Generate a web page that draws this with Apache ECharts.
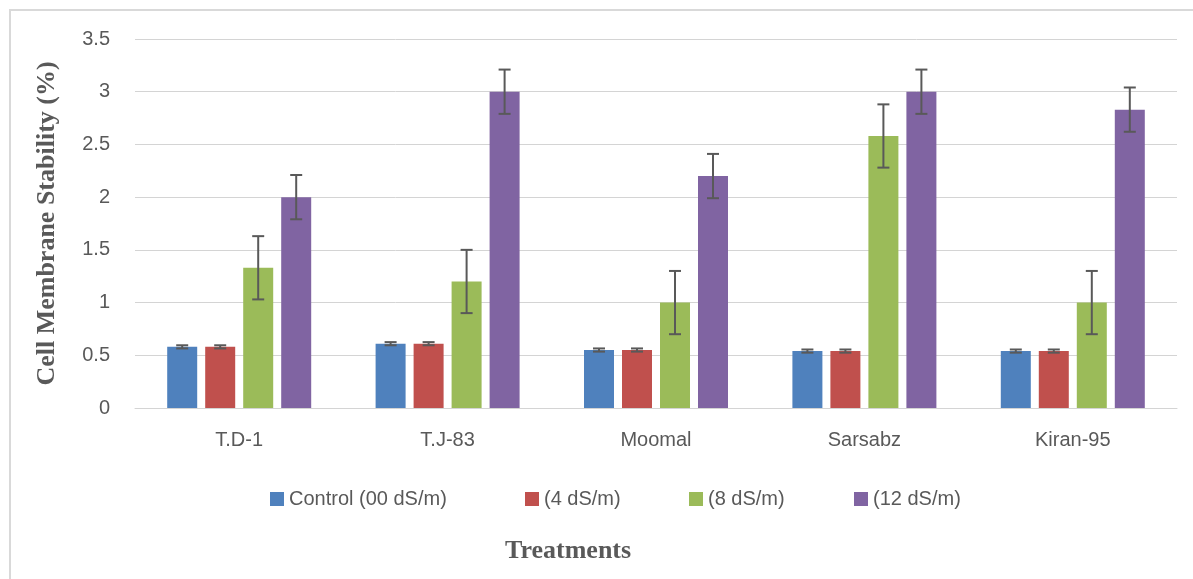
<!DOCTYPE html>
<html>
<head>
<meta charset="utf-8">
<script src="https://cdn.jsdelivr.net/npm/echarts@6/dist/echarts.min.js"></script>
<style>
html,body{margin:0;padding:0;background:#fff;}
#chart{width:1193px;height:579px;}
</style>
</head>
<body>
<div id="chart"></div>
<script>
var categories = ['T.D-1', 'T.J-83', 'Moomal', 'Sarsabz', 'Kiran-95'];
var seriesNames = ['Control (00 dS/m)', '(4 dS/m)', '(8 dS/m)', '(12 dS/m)'];
var control = [0.58, 0.61, 0.55, 0.54, 0.54];
var ds4 = [0.58, 0.61, 0.55, 0.54, 0.54];
var ds8 = [1.33, 1.2, 1.0, 2.58, 1.0];
var ds12 = [2.0, 3.0, 2.2, 3.0, 2.83];
var errControl = [0.015, 0.015, 0.015, 0.015, 0.015];
var err4 = [0.015, 0.015, 0.015, 0.015, 0.015];
var err8 = [0.3, 0.3, 0.3, 0.3, 0.3];
var err12 = [0.21, 0.21, 0.21, 0.21, 0.21];
var yTicks = [0, 0.5, 1, 1.5, 2, 2.5, 3, 3.5];

var colors = ['#4F81BD', '#C0504D', '#9BBB59', '#8064A2'];
var values = [control, ds4, ds8, ds12];
var errors = [errControl, err4, err8, err12];

var BAR_W = 30, BAR_GAP_PX = 8;
var labelColor = '#595959';
var sansFont = 'Liberation Sans, Arial, sans-serif';
var serifFont = 'Liberation Serif, Times New Roman, serif';

var chart = echarts.init(document.getElementById('chart'), null, {renderer: 'canvas'});

var series = [];
values.forEach(function (v, k) {
  series.push({
    name: seriesNames[k],
    type: 'bar',
    data: v,
    barWidth: BAR_W,
    barGap: (BAR_GAP_PX / BAR_W * 100) + '%',
    itemStyle: {color: colors[k]},
    z: 2
  });
});
values.forEach(function (v, k) {
  var data = v.map(function (val, i) { return [i, val - errors[k][i], val + errors[k][i]]; });
  series.push({
    type: 'custom',
    name: 'err' + k,
    z: 5,
    data: data,
    encode: {x: 0, y: [1, 2]},
    renderItem: function (params, api) {
      var idx = api.value(0);
      var lo = api.coord([idx, api.value(1)]);
      var hi = api.coord([idx, api.value(2)]);
      var off = (k - 1.5) * (BAR_W + BAR_GAP_PX);
      var x = lo[0] + off;
      var cap = 6;
      var st = {stroke: '#595959', lineWidth: 2};
      return {
        type: 'group',
        children: [
          {type: 'line', shape: {x1: x, y1: lo[1], x2: x, y2: hi[1]}, style: st},
          {type: 'line', shape: {x1: x - cap, y1: lo[1], x2: x + cap, y2: lo[1]}, style: st},
          {type: 'line', shape: {x1: x - cap, y1: hi[1], x2: x + cap, y2: hi[1]}, style: st}
        ]
      };
    }
  });
});

var legendLefts = [265, 520, 684, 849];
var legends = seriesNames.map(function (n, k) {
  return {
    data: [n],
    left: legendLefts[k],
    top: 484,
    itemWidth: 14,
    itemHeight: 14,
    icon: 'rect',
    textStyle: {color: labelColor, fontSize: 20, fontFamily: sansFont},
    selectedMode: false
  };
});

chart.setOption({
  animation: false,
  backgroundColor: '#fff',
  grid: {left: 135, right: 16, top: 39, bottom: 171},
  legend: legends,
  xAxis: {
    type: 'category',
    data: categories,
    axisLine: {show: true, lineStyle: {color: '#d4d4d4', width: 1}},
    axisTick: {show: false},
    axisLabel: {color: labelColor, fontSize: 20, fontFamily: sansFont, margin: 22}
  },
  yAxis: {
    type: 'value',
    min: 0,
    max: 3.5,
    interval: 0.5,
    name: 'Cell Membrane Stability (%)',
    nameLocation: 'middle',
    nameGap: 75,
    nameTextStyle: {color: labelColor, fontSize: 26, fontWeight: 'bold', fontFamily: serifFont},
    axisLine: {show: false},
    axisTick: {show: false},
    splitLine: {lineStyle: {color: '#d4d4d4', width: 1}},
    axisLabel: {
      color: labelColor, fontSize: 20, fontFamily: sansFont, margin: 25,
      formatter: function (v) { return yTicks.indexOf(v) >= 0 ? String(v) : ''; }
    }
  },
  graphic: [
    {type: 'rect', shape: {x: 10, y: 10, width: 1200, height: 600}, style: {fill: 'none', stroke: '#d9d9d9', lineWidth: 2}, z: -1, silent: true},
    {type: 'text', left: 505, top: 538, style: {text: 'Treatments', fill: labelColor, font: 'bold 26px ' + serifFont}}
  ],
  series: series
});
</script>
</body>
</html>
